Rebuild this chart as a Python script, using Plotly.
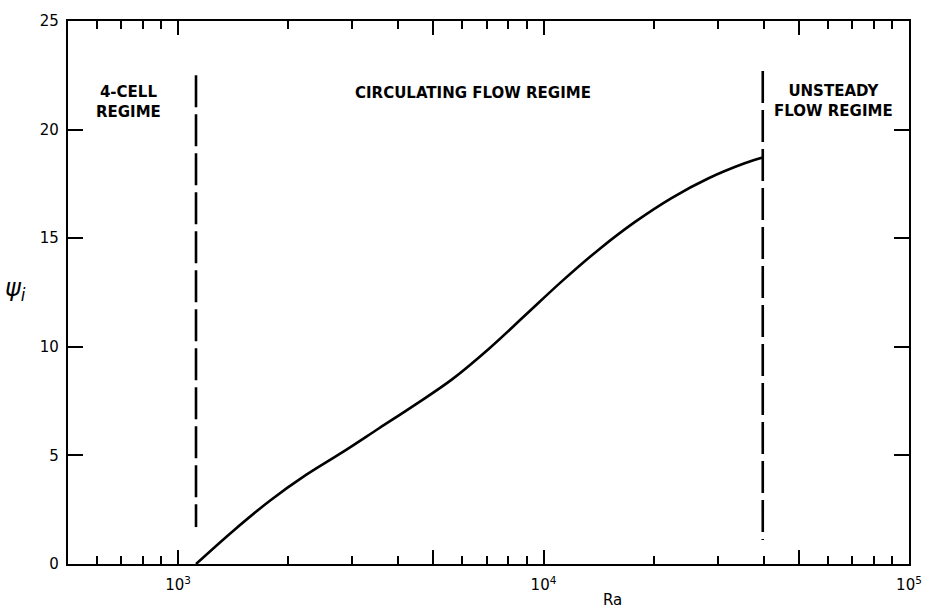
import numpy as np
import plotly.graph_objects as go

# Stream-function maximum psi_i versus Rayleigh number
ra = [1120, 1410, 1780, 2240, 2820, 3550, 4470, 5620, 7080, 8910,
      11200, 14100, 17800, 22400, 28200, 35500, 39800]
psi = [0.0, 1.5, 2.9, 4.1, 5.15, 6.25, 7.35, 8.5, 9.9, 11.45,
       13.0, 14.45, 15.75, 16.85, 17.75, 18.45, 18.72]

# Regime boundaries (dashed verticals)
boundary_ra = [1120, 39800]
boundary_lo = [1.7, 1.1]
boundary_hi = [22.5, 22.7]

# Regime labels
regime_text = ["4-CELL<br>REGIME", "CIRCULATING FLOW REGIME", "UNSTEADY<br>FLOW REGIME"]
regime_ra = [731, 6412, 62100]
regime_psi = [21.25, 21.7, 21.3]

# Axis ticks
x_major = [1000, 5000, 10000, 50000, 100000]
x_major_text = ["10<sup>3</sup>", "", "10<sup>4</sup>", "", "10<sup>5</sup>"]
x_minor = [600, 700, 800, 900, 2000, 3000, 4000, 6000, 7000, 8000, 9000,
           20000, 30000, 40000, 60000, 70000, 80000, 90000]
y_ticks = [0, 5, 10, 15, 20, 25]

FONT = "DejaVu Sans"

fig = go.Figure()

fig.add_trace(go.Scatter(
    x=ra, y=psi, mode="lines",
    line=dict(color="black", width=2.6, shape="spline", smoothing=1.0),
    showlegend=False, hoverinfo="skip",
))

for xb, lo, hi in zip(boundary_ra, boundary_lo, boundary_hi):
    fig.add_trace(go.Scatter(
        x=[xb, xb], y=[hi, lo], mode="lines",
        line=dict(color="black", width=2.6, dash="32px,7px"),
        showlegend=False, hoverinfo="skip",
    ))

for txt, xv, yv in zip(regime_text, regime_ra, regime_psi):
    fig.add_annotation(
        x=np.log10(xv), y=yv, text=txt, showarrow=False,
        xref="x", yref="y", align="center",
        font=dict(family=FONT, size=15, color="black", weight="bold"),
    )

fig.add_annotation(
    x=-0.062, y=0.505, xref="paper", yref="paper", showarrow=False,
    xanchor="center", yanchor="middle",
    text="ψ<sub>i</sub>", font=dict(family=FONT, size=24, color="black", style="italic"),
)
fig.add_annotation(
    x=0.648, y=-0.067, xref="paper", yref="paper", showarrow=False,
    xanchor="center", yanchor="middle",
    text="Ra", font=dict(family=FONT, size=15, color="black"),
)

fig.update_xaxes(
    type="log", range=[np.log10(500), 5],
    tickmode="array", tickvals=x_major, ticktext=x_major_text,
    ticks="inside", ticklen=14, tickwidth=1.8, tickcolor="black",
    minor=dict(tickmode="array", tickvals=x_minor, ticks="inside",
               ticklen=8, tickwidth=1.8, tickcolor="black"),
    showline=True, linecolor="black", linewidth=2.4, mirror="ticks",
    showgrid=False, zeroline=False, ticklabelstandoff=6,
    tickfont=dict(family=FONT, size=15, color="black"),
)
fig.update_yaxes(
    range=[0, 25], tickmode="array", tickvals=y_ticks,
    ticks="inside", ticklen=15, tickwidth=1.8, tickcolor="black",
    showline=True, linecolor="black", linewidth=2.4, mirror="ticks",
    showgrid=False, zeroline=False, ticklabelstandoff=4,
    tickfont=dict(family=FONT, size=15, color="black"),
)

fig.update_layout(
    width=934, height=611,
    margin=dict(l=68, r=20, t=14, b=47),
    paper_bgcolor="white", plot_bgcolor="white",
)

fig.write_html("out.html")
